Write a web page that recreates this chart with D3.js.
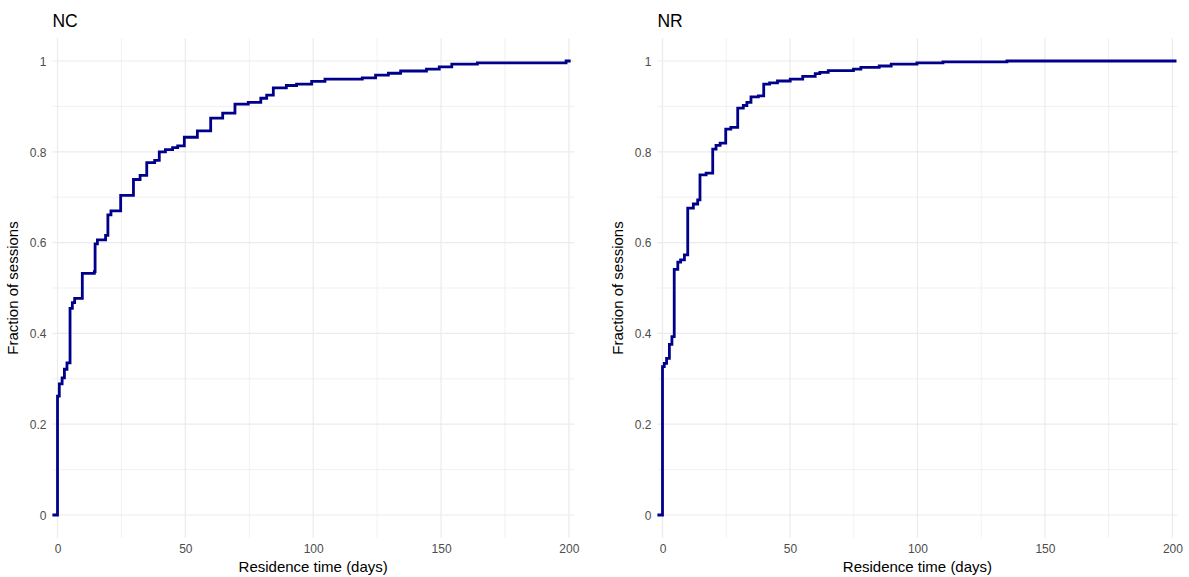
<!DOCTYPE html>
<html>
<head>
<meta charset="utf-8">
<script src="https://cdn.jsdelivr.net/npm/d3@7"></script>
<style>
  html, body { margin: 0; padding: 0; background: #fff; }
  svg { display: block; font-family: "Liberation Sans", Arial, Helvetica, sans-serif; }
</style>
</head>
<body>
<svg id="chart" width="1189" height="577"></svg>
<script>
// Empirical cumulative distribution of session residence time, two sites.
const ncDays = [0, 0.7, 1.8, 2.7, 3.7, 4.9, 5.8, 6.7, 9.7, 14.4, 14.7, 15.6, 18.8, 19.7, 20.9,
  24.7, 29.7, 32.3, 34.9, 38.0, 39.8, 42.2, 45.0, 47.0, 49.6, 54.7, 59.9, 64.6, 69.4, 74.6,
  79.5, 81.8, 84.4, 89.5, 93.5, 99.4, 104.6, 119.2, 124.4, 129.4, 134.2, 144.3, 149.3, 154.2,
  164.2, 198.9, 200.7];
const ncFraction = [0.262, 0.289, 0.302, 0.321, 0.335, 0.455, 0.468, 0.477, 0.532, 0.536, 0.597,
  0.606, 0.616, 0.661, 0.670, 0.704, 0.739, 0.748, 0.776, 0.781, 0.800, 0.805, 0.809, 0.813,
  0.832, 0.846, 0.874, 0.885, 0.905, 0.909, 0.918, 0.925, 0.941, 0.946, 0.949, 0.955, 0.960,
  0.963, 0.969, 0.973, 0.978, 0.982, 0.987, 0.993, 0.996, 1.000, 1.000];

const nrDays = [0, 0.7, 1.6, 2.7, 3.7, 4.6, 6.0, 7.1, 8.6, 9.9, 12.1, 13.8, 14.7, 17.1, 19.7,
  21.0, 22.6, 24.8, 26.8, 29.5, 31.7, 33.1, 34.7, 37.6, 39.7, 42.0, 45.1, 50.1, 55.0, 59.9,
  61.7, 65.0, 74.9, 77.8, 85.0, 89.7, 99.8, 110.0, 135.1, 201.6];
const nrFraction = [0.327, 0.334, 0.345, 0.376, 0.393, 0.541, 0.557, 0.562, 0.573, 0.676, 0.685,
  0.694, 0.749, 0.753, 0.806, 0.814, 0.819, 0.850, 0.854, 0.896, 0.902, 0.909, 0.921, 0.923,
  0.949, 0.952, 0.956, 0.960, 0.966, 0.972, 0.975, 0.979, 0.982, 0.986, 0.989, 0.993, 0.996,
  0.998, 1.000, 1.000];

const xTicks = [0, 50, 100, 150, 200];
const xMinorTicks = [25, 75, 125, 175];
const yTicks = [0, 0.2, 0.4, 0.6, 0.8, 1];
const yMinorTicks = [0.1, 0.3, 0.5, 0.7, 0.9];
const yTickLabels = ["0", "0.2", "0.4", "0.6", "0.8", "1"];

const panels = [
  { title: "NC", days: ncDays, fraction: ncFraction, left: 52.4, right: 574 },
  { title: "NR", days: nrDays, fraction: nrFraction, left: 657.4, right: 1177.5 }
];

const svg = d3.select("#chart");
const panelTop = 38.3, panelBottom = 537.7;
const lineColor = "#00008B";
const gridColor = "#ebebeb";

panels.forEach(p => {
  const x = d3.scaleLinear().domain([-2, 202]).range([p.left, p.right]);
  const y = d3.scaleLinear().domain([-0.05, 1.05]).range([panelBottom, panelTop]);
  const g = svg.append("g");

  // minor grid
  g.selectAll(".vminor").data(xMinorTicks).join("line")
    .attr("x1", d => x(d)).attr("x2", d => x(d))
    .attr("y1", panelTop).attr("y2", panelBottom)
    .attr("stroke", gridColor).attr("stroke-width", 0.7);
  g.selectAll(".hminor").data(yMinorTicks).join("line")
    .attr("x1", p.left).attr("x2", p.right)
    .attr("y1", d => y(d)).attr("y2", d => y(d))
    .attr("stroke", gridColor).attr("stroke-width", 0.7);
  // major grid
  g.selectAll(".vmajor").data(xTicks).join("line")
    .attr("x1", d => x(d)).attr("x2", d => x(d))
    .attr("y1", panelTop).attr("y2", panelBottom)
    .attr("stroke", gridColor).attr("stroke-width", 1.2);
  g.selectAll(".hmajor").data(yTicks).join("line")
    .attr("x1", p.left).attr("x2", p.right)
    .attr("y1", d => y(d)).attr("y2", d => y(d))
    .attr("stroke", gridColor).attr("stroke-width", 1.2);

  // axes (text only, no domain line or ticks)
  const xAxis = d3.axisBottom(x).tickValues(xTicks).tickSize(0).tickPadding(0);
  const ax = g.append("g").attr("transform", `translate(0,${panelBottom})`).call(xAxis);
  ax.select(".domain").remove();
  ax.selectAll("text").attr("dy", null).attr("y", 15.8)
    .attr("fill", "#4d4d4d").style("font-size", "12px");

  const yAxis = d3.axisLeft(y).tickValues(yTicks).tickSize(0).tickPadding(0)
    .tickFormat((d, i) => yTickLabels[i]);
  const ay = g.append("g").attr("transform", `translate(${p.left},0)`).call(yAxis);
  ay.select(".domain").remove();
  ay.selectAll("text").attr("x", -6).attr("dy", "0.36em")
    .attr("fill", "#4d4d4d").style("font-size", "12px");

  // step line
  const pts = [[x.domain()[0], 0]].concat(p.days.map((d, i) => [d, p.fraction[i]]));
  const line = d3.line().x(d => x(d[0])).y(d => y(d[1])).curve(d3.curveStepAfter);
  g.append("path").datum(pts)
    .attr("d", line)
    .attr("fill", "none")
    .attr("stroke", lineColor)
    .attr("stroke-width", 2.8)
    .attr("stroke-linejoin", "miter");

  // titles
  g.append("text").attr("x", p.left).attr("y", 27)
    .attr("fill", "#000").style("font-size", "17.5px").text(p.title);
  g.append("text").attr("x", (p.left + p.right) / 2).attr("y", 572)
    .attr("text-anchor", "middle").attr("fill", "#000").style("font-size", "15px")
    .text("Residence time (days)");
  g.append("text")
    .attr("transform", `translate(${p.left - 34},${(panelTop + panelBottom) / 2}) rotate(-90)`)
    .attr("text-anchor", "middle").attr("fill", "#000").style("font-size", "15px")
    .text("Fraction of sessions");
});
</script>
</body>
</html>
